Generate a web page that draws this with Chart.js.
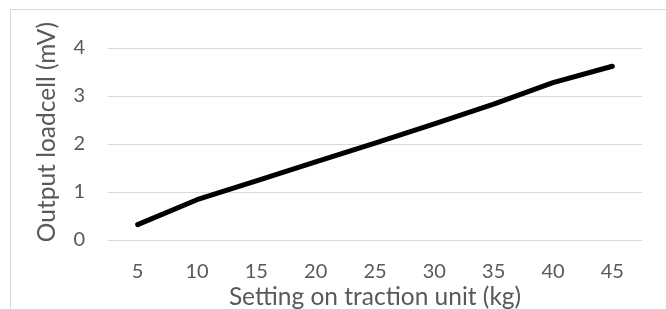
<!DOCTYPE html>
<html lang="en">
<head>
    <meta charset="UTF-8">
    <title>Loadcell calibration</title>
    <script src="https://cdn.jsdelivr.net/npm/chart.js"></script>
    <style>
        html, body { margin: 0; padding: 0; background: #fff; overflow: hidden; }
        .frame { position: absolute; left: 10px; top: 9px; width: 700px; height: 330px; border: 1px solid #d9d9d9; }
        .wrap { position: absolute; left: 0; top: 0; width: 666px; height: 309px; }
    </style>
</head>
<body>
    <div class="frame"></div>
    <div class="wrap">
        <canvas id="loadChart" width="666" height="309"></canvas>
    </div>
    <script>
        // settings on the traction unit (kg) and loadcell output (mV)
        const settings = ['5', '10', '15', '20', '25', '30', '35', '40', '45'];
        const outputMv = [0.32, 0.84, 1.23, 1.63, 2.02, 2.42, 2.83, 3.28, 3.62];
        const yTicks = [0, 1, 2, 3, 4];
        const yTitle = 'Output loadcell (mV)';
        const xTitle = 'Setting on traction unit (kg)';

        const textColor = '#595959';
        const gridColor = '#d9d9d9';
        const fontFamily = 'Lato, "Open Sans", sans-serif';

        // y title drawn by hand so it sits where Excel put it (a bit above the plot centre)
        const yTitlePlugin = {
            id: 'yTitle',
            afterDraw(chart) {
                const c = chart.ctx;
                c.save();
                c.translate(47, 132);
                c.rotate(-Math.PI / 2);
                c.fillStyle = textColor;
                c.font = '24.5px ' + fontFamily;
                c.textAlign = 'center';
                c.textBaseline = 'middle';
                c.fillText(yTitle, 0, 0);
                c.restore();
            }
        };

        const ctx = document.getElementById('loadChart').getContext('2d');
        new Chart(ctx, {
            type: 'line',
            data: {
                labels: settings,
                datasets: [{
                    label: 'Output',
                    data: outputMv,
                    borderColor: '#000',
                    borderWidth: 5,
                    borderCapStyle: 'round',
                    borderJoinStyle: 'round',
                    pointRadius: 0,
                    tension: 0,
                    fill: false
                }]
            },
            options: {
                responsive: false,
                animation: false,
                layout: { padding: { top: 48, right: 24, left: 0, bottom: 0 } },
                plugins: {
                    legend: { display: false },
                    tooltip: { enabled: false }
                },
                scales: {
                    x: {
                        offset: true,
                        grid: { display: false, drawTicks: false },
                        border: { display: false },
                        ticks: { color: textColor, padding: 20, font: { family: fontFamily, size: 20 } },
                        title: {
                            display: true,
                            text: xTitle,
                            color: textColor,
                            padding: { top: 0, bottom: 0 },
                            font: { family: fontFamily, size: 24.5, lineHeight: 1 }
                        },
                        afterFit: scale => { scale.height = 69; }
                    },
                    y: {
                        min: 0,
                        max: 4,
                        afterBuildTicks: scale => {
                            scale.ticks = yTicks.map(v => ({ value: v }));
                        },
                        grid: { color: gridColor, lineWidth: 1, drawTicks: false },
                        border: { display: false },
                        ticks: { color: textColor, padding: 23, font: { family: fontFamily, size: 20 } },
                        title: { display: false },
                        afterFit: scale => { scale.width = 108; }
                    }
                }
            },
            plugins: [yTitlePlugin]
        });
    </script>
</body>
</html>
